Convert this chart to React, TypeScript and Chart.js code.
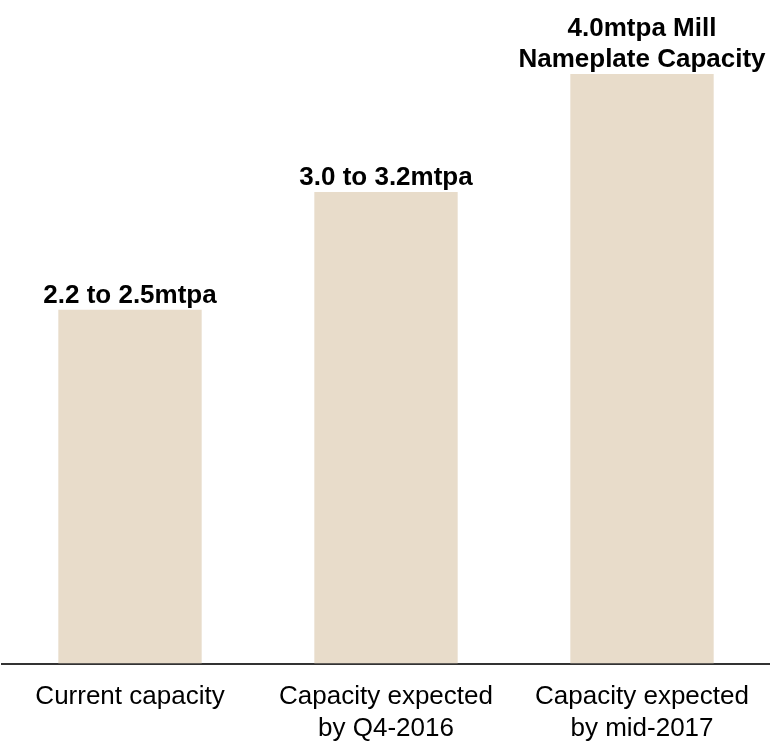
import React, { useEffect, useRef } from "react";
import { Chart, registerables } from "chart.js";

Chart.register(...registerables);

const categories: string[][] = [
  ["Current capacity"],
  ["Capacity expected", "by Q4-2016"],
  ["Capacity expected", "by mid-2017"],
];
const capacityValues: number[] = [2.4, 3.2, 4.0];
const barLabels: string[][] = [
  ["2.2 to 2.5mtpa"],
  ["3.0 to 3.2mtpa"],
  ["4.0mtpa Mill", "Nameplate Capacity"],
];

const FONT = '"Liberation Sans", Arial, Helvetica, sans-serif';

const labelPlugin = {
  id: "barTopLabels",
  afterDatasetsDraw(chart: any) {
    const ctx = chart.ctx;
    const meta = chart.getDatasetMeta(0);
    ctx.save();
    ctx.font = `bold 26px ${FONT}`;
    ctx.fillStyle = "#000000";
    ctx.textAlign = "center";
    ctx.textBaseline = "alphabetic";
    meta.data.forEach((bar: any, i: number) => {
      const lines = barLabels[i];
      const lh = 31;
      lines.forEach((line, j) => {
        const fromBottom = lines.length - 1 - j;
        ctx.fillText(line, bar.x, bar.y - 7 - fromBottom * lh);
      });
    });
    ctx.restore();
  },
};

export default function App() {
  const canvasRef = useRef<HTMLCanvasElement | null>(null);

  useEffect(() => {
    if (!canvasRef.current) return;
    const chart = new Chart(canvasRef.current, {
      type: "bar",
      data: {
        labels: categories,
        datasets: [
          {
            data: capacityValues,
            backgroundColor: "#E8DCCA",
            borderWidth: 0,
            barPercentage: 0.56,
            categoryPercentage: 1,
          },
        ],
      },
      plugins: [labelPlugin],
      options: {
        responsive: false,
        animation: false,
        layout: { padding: { top: 74, left: 2, right: 0, bottom: -19 } },
        plugins: {
          legend: { display: false },
          tooltip: { enabled: false },
          title: { display: false },
        },
        scales: {
          x: {
            grid: { display: false, drawTicks: false },
            border: { display: true, color: "#333333", width: 2 },
            ticks: {
              color: "#000000",
              padding: 18,
              maxRotation: 0,
              autoSkip: false,
              font: { family: FONT, size: 26, lineHeight: 1.2 },
            },
          },
          y: {
            display: false,
            min: 0,
            max: 4.0,
          },
        },
      },
    });
    return () => chart.destroy();
  }, []);

  return (
    <div style={{ position: "absolute", left: 0, top: 0, width: 770, height: 743, background: "#ffffff" }}>
      <canvas ref={canvasRef} width={770} height={743} style={{ display: "block" }} />
    </div>
  );
}
